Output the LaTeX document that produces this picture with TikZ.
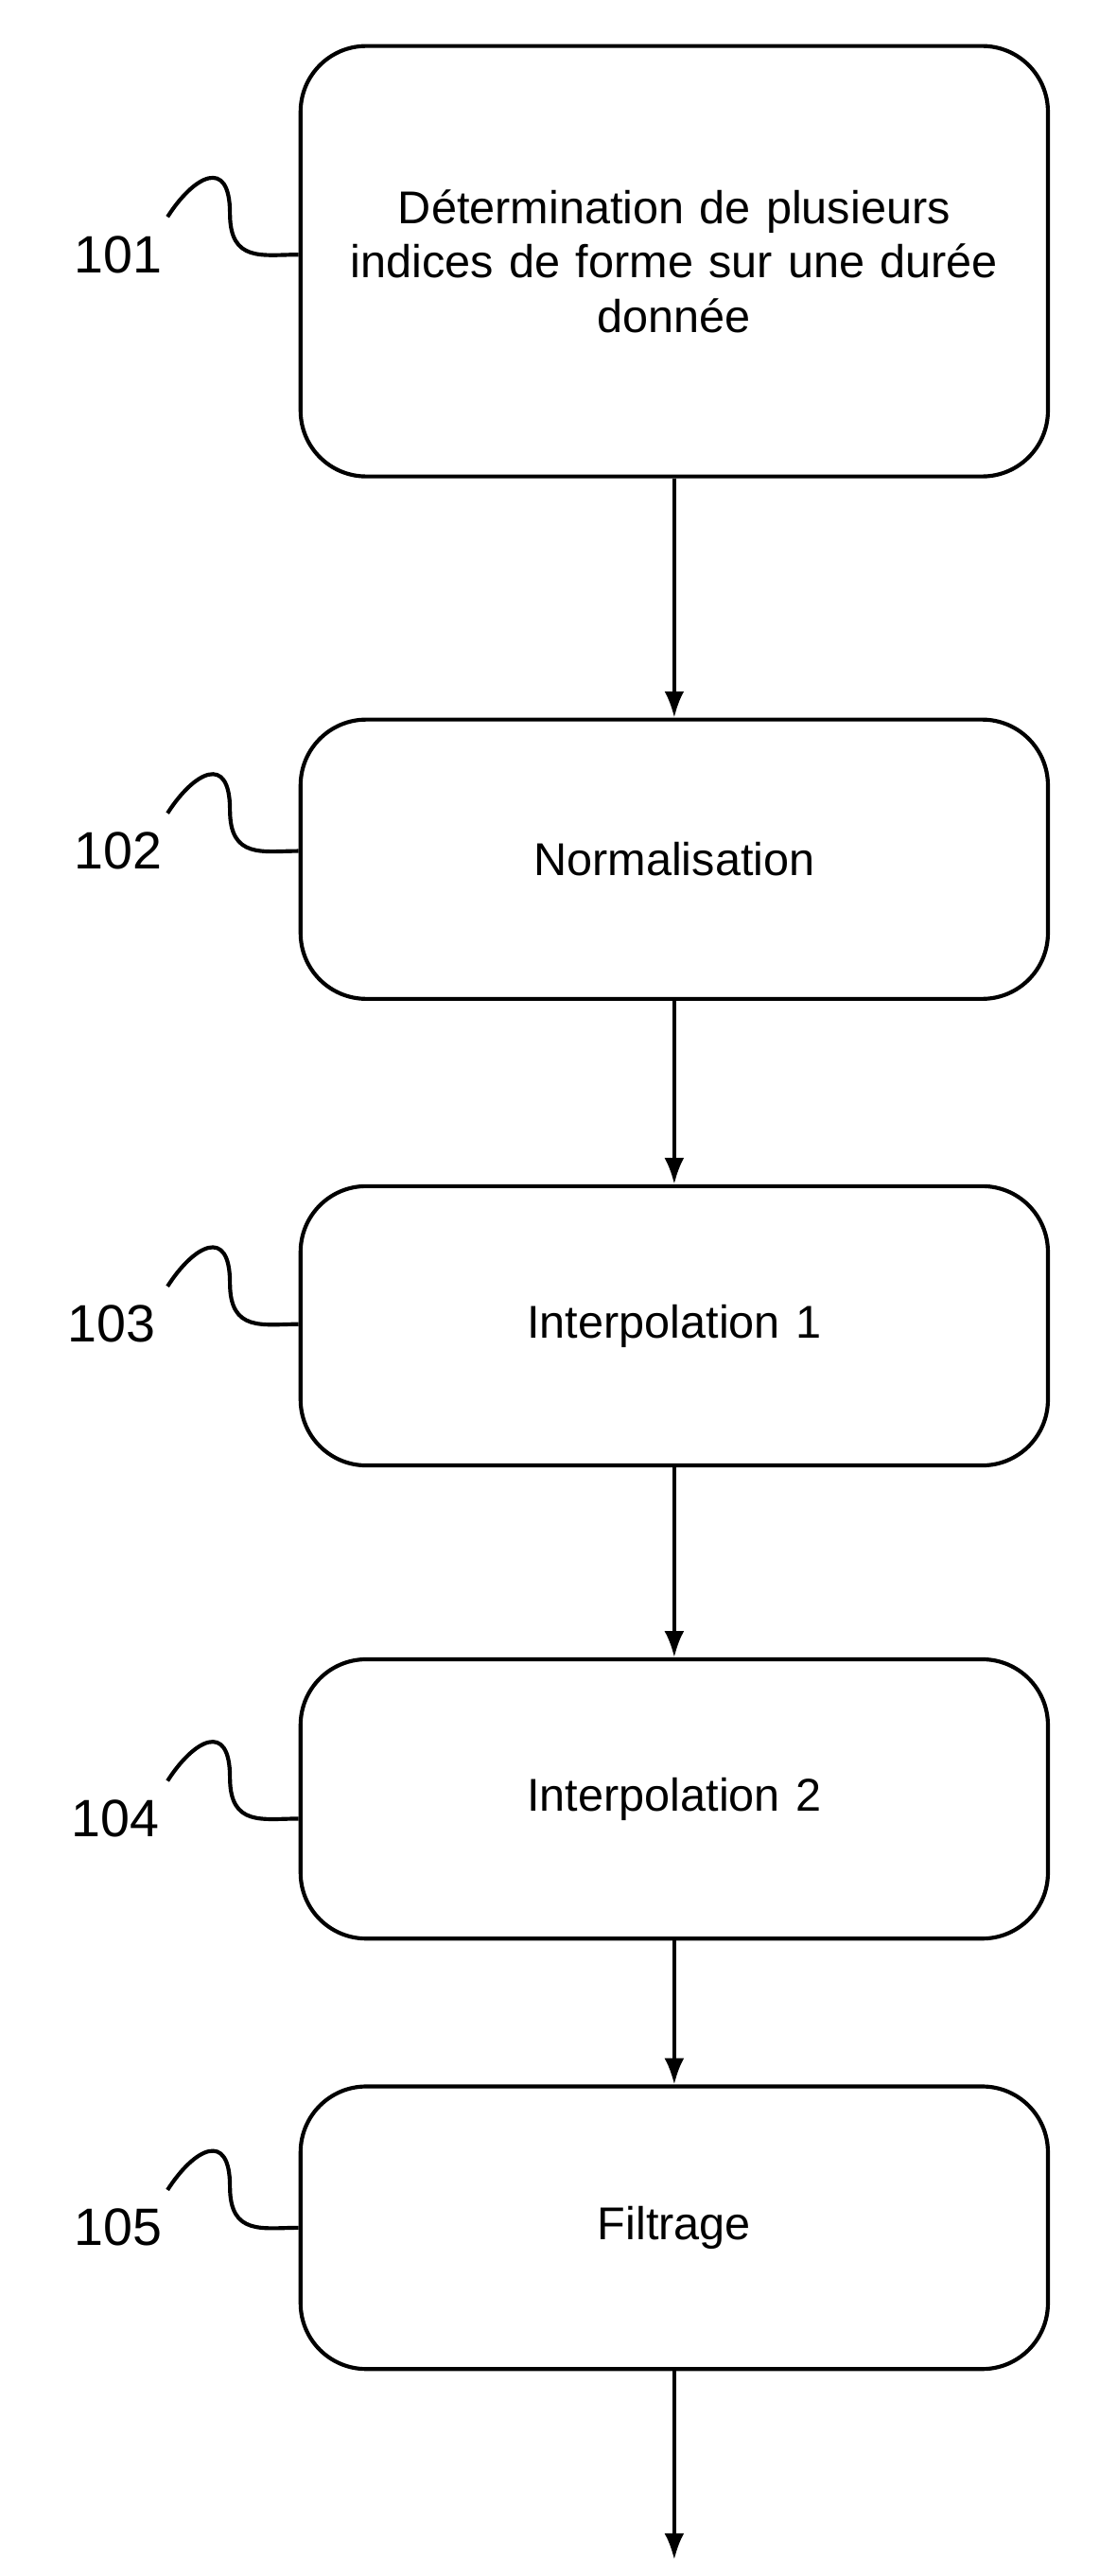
\documentclass[tikz,border=0pt]{standalone}
\usepackage{fontspec}
\setmainfont{Liberation Sans}
\usetikzlibrary{arrows.meta}
\begin{document}
\begin{tikzpicture}[x=0.5pt,y=-0.5pt,
  box/.style={draw,line width=1.2pt,rounded corners=20pt,minimum width=227.5pt,align=center,font=\fontsize{14}{16.5}\selectfont,text width=215pt},
  lab/.style={font=\fontsize{16}{18}\selectfont},
  arr/.style={-{Latex[length=8pt,width=6pt]},line width=1pt},
  sq/.style={line width=1.2pt}]
\useasboundingbox (0,0) rectangle (680,1568);
\node[box,minimum height=131pt] (b1) at (410.5,159) {Détermination de plusieurs\\indices de forme sur une durée\\donnée};
\node[box,minimum height=85pt] (b2) at (410.5,523) {Normalisation};
\node[box,minimum height=85pt] (b3) at (410.5,807) {Interpolation 1};
\node[box,minimum height=85pt] (b4) at (410.5,1095) {Interpolation 2};
\node[box,minimum height=86pt] (b5) at (410.5,1356) {Filtrage};
\coordinate (end) at (410.5,1558);
\draw[arr] (b1) -- (b2);
\draw[arr] (b2) -- (b3);
\draw[arr] (b3) -- (b4);
\draw[arr] (b4) -- (b5);
\draw[arr] (b5) -- (end);
\foreach \n/\y/\t/\lx in {1/155/101/72,2/518/102/72,3/806/103/68,4/1107/104/70,5/1356/105/72}{
  \node[lab] (l\n) at (\lx,\y) {\t};
  \coordinate (s\n) at (102,\y-23);
  \draw[sq] (s\n) .. controls (118,\y-48) and (140,\y-60) .. (140,\y-25)
     .. controls (140,\y+5) and (160,\y) .. (b\n.west |- 0,\y);
}
\end{tikzpicture}
\end{document}
